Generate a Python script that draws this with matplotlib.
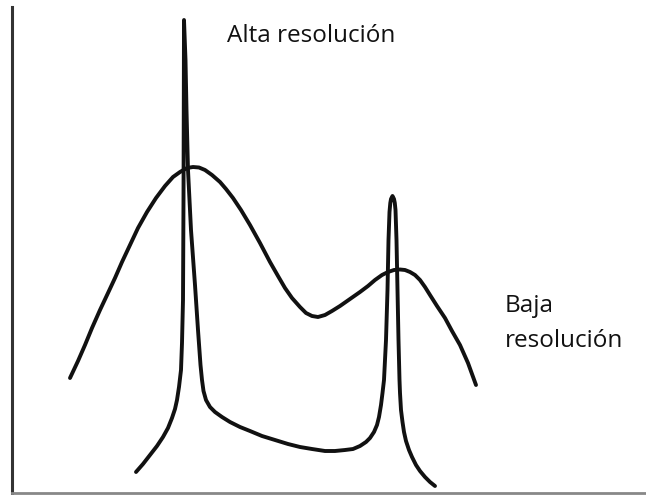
import matplotlib.pyplot as plt

# Cromatograma esquemático: alta resolución vs. baja resolución
alta_x = [136, 143, 150, 157, 163, 168, 172, 175, 177, 179, 181, 182, 183, 183.5,
          183.8, 184, 185.5, 186.5, 188, 191, 195, 198, 200.5, 202, 203.5, 206,
          210, 215, 222, 230, 240, 250, 262, 275, 288, 300, 312, 325, 335, 345,
          353, 360, 366, 370, 374, 377, 379, 381, 382.5, 384, 386, 387.5, 388.5,
          389.5, 390.3, 391, 392.5, 394, 394.8, 395.5, 396.5, 397.5, 398.5, 399.5,
          400, 401, 402.5, 404, 406, 409, 412, 416, 420, 425, 430, 435]
alta_y = [21, 29, 38, 47, 56, 65, 75, 84, 93, 106, 123, 150, 193, 293,
          393, 473, 433, 383, 323, 263, 208, 163, 128, 113, 102, 93,
          86, 81, 76, 71, 66, 62, 57, 53, 49, 46, 44, 42, 42, 43,
          44, 47, 51, 55, 61, 68, 76, 88, 100, 113, 153, 203, 253,
          281, 290, 294, 297, 294, 290, 283, 253, 203, 153, 113,
          100, 83, 71, 61, 52, 43, 36, 28, 22, 16, 11, 7]

baja_x = [70, 78, 85, 92, 100, 108, 115, 122, 130, 138, 147, 156, 165, 173, 180,
          187, 193, 199, 205, 212, 220, 226, 233, 241, 250, 260, 270, 278, 285,
          292, 300, 306, 312, 318, 325, 332, 340, 350, 360, 368, 375, 382, 388,
          394, 400, 405, 410, 415, 420, 425, 430, 437, 445, 452, 460, 468, 476]
baja_y = [115, 132, 148, 165, 183, 200, 215, 231, 248, 265, 281, 295, 307, 316, 321,
          325, 326, 325.5, 323, 318, 311, 304, 295, 283, 268, 250, 231, 217, 205,
          195, 186, 180, 177, 176, 178, 182, 187, 194, 201, 207, 213, 218, 221,
          223, 223.5, 223, 221, 218, 213, 206, 198, 187, 175, 162, 148, 130, 108]

fig = plt.figure(figsize=(6.46, 4.95), dpi=100)
ax = fig.add_axes([12 / 646, 2 / 495, 634 / 646, 486 / 495])
ax.set_xlim(12, 646)
ax.set_ylim(0, 486)

estilo = dict(color='#111111', lw=2.8, solid_joinstyle='round', solid_capstyle='round')
ax.plot(alta_x, alta_y, **estilo)
ax.plot(baja_x, baja_y, **estilo)

fuente = dict(family='Open Sans', fontsize=17.5, color='#111111', va='baseline', ha='left')
ax.text(227, 451, 'Alta resolución', **fuente)
ax.text(505, 181, 'Baja', **fuente)
ax.text(505, 146, 'resolución', **fuente)

for lado in ['top', 'right']:
    ax.spines[lado].set_visible(False)
ax.spines['left'].set_color('#333333')
ax.spines['left'].set_linewidth(2.2)
ax.spines['bottom'].set_color('#888888')
ax.spines['bottom'].set_linewidth(2)
ax.set_xticks([])
ax.set_yticks([])

fig.savefig('out.png', dpi=100, facecolor='white')
